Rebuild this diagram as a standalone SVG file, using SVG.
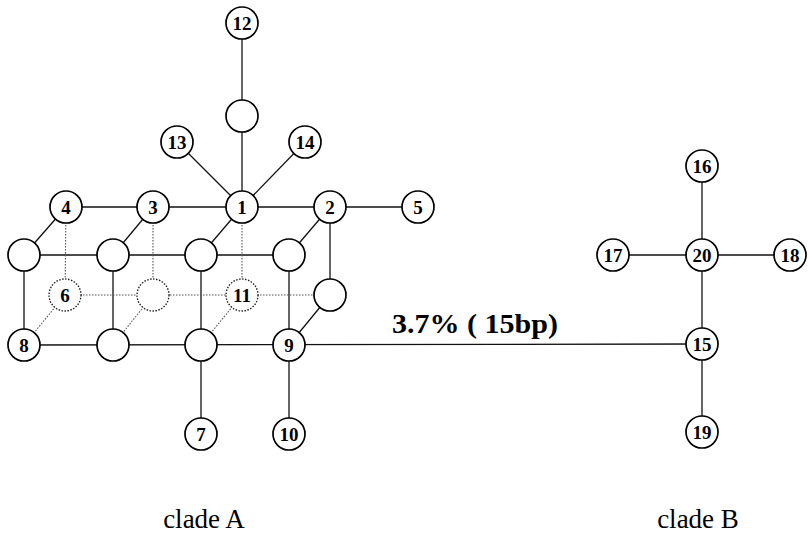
<svg xmlns="http://www.w3.org/2000/svg" width="809" height="534" viewBox="0 0 809 534">
<style>
.s{stroke:#111;stroke-width:1.3;fill:none}
.d{stroke:#555;stroke-width:1.1;stroke-dasharray:1.5 1.5;fill:none}
.c{fill:#fff;stroke:#000;stroke-width:1.7}
.cd{fill:#fff;stroke:#222;stroke-width:1.4;stroke-dasharray:1.5 1.5}
.t{font-family:"Liberation Serif",serif;font-weight:bold;font-size:19px;text-anchor:middle}
.lab{font-family:"Liberation Serif",serif;font-size:27px;text-anchor:middle}
</style>
<rect width="809" height="534" fill="#fff"/>
<g id="connectors">
<line class="s" x1="242" y1="23" x2="242" y2="116"/>
<line class="s" x1="242" y1="116" x2="242" y2="207"/>
<line class="s" x1="177" y1="142" x2="242" y2="207"/>
<line class="s" x1="305" y1="142" x2="242" y2="207"/>
<line class="s" x1="66" y1="207" x2="418" y2="207"/>
<line class="s" x1="66" y1="207" x2="24" y2="255"/>
<line class="s" x1="153" y1="207" x2="113" y2="255"/>
<line class="s" x1="242" y1="207" x2="201" y2="255"/>
<line class="s" x1="330" y1="207" x2="289" y2="255"/>
<line class="s" x1="24" y1="255" x2="289" y2="255"/>
<line class="s" x1="24" y1="255" x2="24" y2="345"/>
<line class="s" x1="113" y1="255" x2="113" y2="345"/>
<line class="s" x1="201" y1="255" x2="201" y2="345"/>
<line class="s" x1="289" y1="255" x2="289" y2="345"/>
<line class="s" x1="330" y1="207" x2="330" y2="295"/>
<line class="s" x1="330" y1="295" x2="289" y2="345"/>
<line class="s" x1="24" y1="345" x2="702" y2="344"/>
<line class="s" x1="201" y1="345" x2="201" y2="434"/>
<line class="s" x1="289" y1="345" x2="289" y2="434"/>
<line class="d" x1="66" y1="207" x2="65" y2="295"/>
<line class="d" x1="153" y1="207" x2="153" y2="295"/>
<line class="d" x1="242" y1="207" x2="242" y2="295"/>
<line class="d" x1="65" y1="295" x2="330" y2="295"/>
<line class="d" x1="65" y1="295" x2="24" y2="345"/>
<line class="d" x1="153" y1="295" x2="113" y2="345"/>
<line class="d" x1="242" y1="295" x2="201" y2="345"/>
<line class="s" x1="702" y1="166" x2="702" y2="432"/>
<line class="s" x1="613" y1="255" x2="790" y2="255"/>
</g>
<g id="n12"><circle class="c" cx="242" cy="23" r="16"/><text class="t" x="242" y="29.5">12</text></g>
<g id="m1"><circle class="c" cx="242" cy="116" r="16"/></g>
<g id="n13"><circle class="c" cx="177" cy="142" r="16"/><text class="t" x="177" y="148.5">13</text></g>
<g id="n14"><circle class="c" cx="305" cy="142" r="16"/><text class="t" x="305" y="148.5">14</text></g>
<g id="n1"><circle class="c" cx="242" cy="207" r="16"/><text class="t" x="242" y="213.5">1</text></g>
<g id="n2"><circle class="c" cx="330" cy="207" r="16"/><text class="t" x="330" y="213.5">2</text></g>
<g id="n3"><circle class="c" cx="153" cy="207" r="16"/><text class="t" x="153" y="213.5">3</text></g>
<g id="n4"><circle class="c" cx="66" cy="207" r="16"/><text class="t" x="66" y="213.5">4</text></g>
<g id="n5"><circle class="c" cx="418" cy="207" r="16"/><text class="t" x="418" y="213.5">5</text></g>
<g id="m2"><circle class="c" cx="24" cy="255" r="16"/></g>
<g id="m3"><circle class="c" cx="113" cy="255" r="16"/></g>
<g id="m4"><circle class="c" cx="201" cy="255" r="16"/></g>
<g id="m5"><circle class="c" cx="289" cy="255" r="16"/></g>
<g id="n6"><circle class="cd" cx="65" cy="295" r="16"/><text class="t" x="65" y="301.5">6</text></g>
<g id="m6"><circle class="cd" cx="153" cy="295" r="16"/></g>
<g id="n11"><circle class="cd" cx="242" cy="295" r="16"/><text class="t" x="242" y="301.5">11</text></g>
<g id="m7"><circle class="c" cx="330" cy="295" r="16"/></g>
<g id="n8"><circle class="c" cx="24" cy="345" r="16"/><text class="t" x="24" y="351.5">8</text></g>
<g id="m8"><circle class="c" cx="113" cy="345" r="16"/></g>
<g id="m9"><circle class="c" cx="201" cy="345" r="16"/></g>
<g id="n9"><circle class="c" cx="289" cy="345" r="16"/><text class="t" x="289" y="351.5">9</text></g>
<g id="n7"><circle class="c" cx="201" cy="434" r="16"/><text class="t" x="201" y="440.5">7</text></g>
<g id="n10"><circle class="c" cx="289" cy="434" r="16"/><text class="t" x="289" y="440.5">10</text></g>
<g id="n16"><circle class="c" cx="702" cy="166" r="16"/><text class="t" x="702" y="172.5">16</text></g>
<g id="n17"><circle class="c" cx="613" cy="255" r="16"/><text class="t" x="613" y="261.5">17</text></g>
<g id="n20"><circle class="c" cx="702" cy="255" r="16"/><text class="t" x="702" y="261.5">20</text></g>
<g id="n18"><circle class="c" cx="790" cy="255" r="16"/><text class="t" x="790" y="261.5">18</text></g>
<g id="n15"><circle class="c" cx="702" cy="344" r="16"/><text class="t" x="702" y="350.5">15</text></g>
<g id="n19"><circle class="c" cx="702" cy="432" r="16"/><text class="t" x="702" y="438.5">19</text></g>
<text x="392" y="333" font-family="'Liberation Serif',serif" font-weight="bold" font-size="27" textLength="166" lengthAdjust="spacingAndGlyphs">3.7% ( 15bp)</text>
<text class="lab" x="204" y="528">clade A</text>
<text class="lab" x="698" y="528">clade B</text>
</svg>
